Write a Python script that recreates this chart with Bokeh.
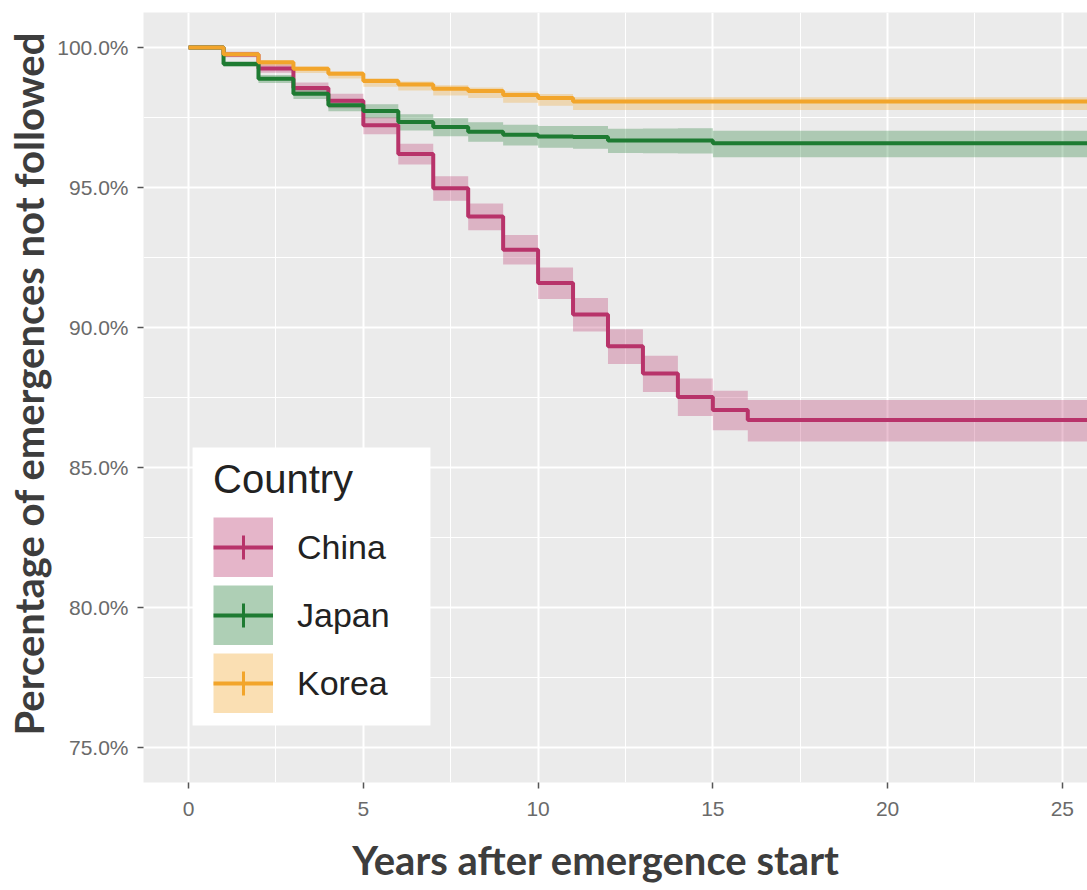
from bokeh.plotting import figure
from bokeh.models import Range1d, FixedTicker, Legend, LegendItem, Title, BoxAnnotation
from bokeh.embed import file_html
from bokeh.resources import INLINE

# ---------------- data ----------------
years = [0, 1, 2, 3, 4, 5, 6, 7, 8, 9, 10, 11, 12, 13, 14, 15, 16, 25.8]

china = [100, 99.75, 99.25, 98.55, 98.10, 97.22, 96.20, 94.97, 93.96, 92.78,
         91.59, 90.46, 89.33, 88.36, 87.52, 87.05, 86.70, 86.70]
china_upper = [100, 99.85, 99.40, 98.75, 98.35, 97.52, 96.56, 95.40, 94.43, 93.30,
               92.14, 91.05, 89.94, 88.99, 88.18, 87.74, 87.41, 87.41]
china_lower = [100, 99.65, 99.10, 98.33, 97.83, 96.90, 95.82, 94.53, 93.47, 92.25,
               91.02, 89.86, 88.70, 87.70, 86.84, 86.33, 85.93, 85.93]

japan = [100, 99.41, 98.88, 98.35, 97.94, 97.73, 97.34, 97.16, 96.99, 96.88,
         96.82, 96.80, 96.68, 96.68, 96.68, 96.58, 96.58, 96.58]
japan_upper = [100, 99.51, 99.02, 98.53, 98.15, 97.97, 97.62, 97.47, 97.33, 97.24,
               97.20, 97.20, 97.10, 97.11, 97.12, 97.03, 97.03, 97.03]
japan_lower = [100, 99.30, 98.73, 98.16, 97.72, 97.47, 97.04, 96.83, 96.63, 96.50,
               96.42, 96.38, 96.23, 96.22, 96.21, 96.08, 96.08, 96.08]

korea = [100, 99.76, 99.47, 99.24, 99.06, 98.80, 98.68, 98.53, 98.45, 98.30,
         98.20, 98.07, 98.07, 98.07, 98.07, 98.07, 98.07, 98.07]
korea_upper = [100, 99.81, 99.54, 99.32, 99.15, 98.90, 98.79, 98.65, 98.57, 98.43,
               98.34, 98.22, 98.22, 98.22, 98.22, 98.22, 98.22, 98.22]
korea_lower = [100, 99.68, 99.35, 99.09, 98.89, 98.60, 98.46, 98.29, 98.20, 98.03,
               97.92, 97.77, 97.77, 97.77, 97.77, 97.77, 97.77, 97.77]

countries = ["China", "Japan", "Korea"]
colors = ["#B8336A", "#1E7B32", "#F2A52B"]

x_ticks = [0, 5, 10, 15, 20, 25]
x_tick_labels = ["0", "5", "10", "15", "20", "25"]
x_minor = [2.5, 7.5, 12.5, 17.5, 22.5]
y_ticks = [75, 80, 85, 90, 95, 100]
y_tick_labels = ["75.0%", "80.0%", "85.0%", "90.0%", "95.0%", "100.0%"]
y_minor = [77.5, 82.5, 87.5, 92.5, 97.5]

x_title = "Years after emergence start"
y_title = "Percentage of emergences not followed"
legend_title = "Country"

NAN = float("nan")

# ---------------- figure ----------------
p = figure(width=1087, height=890, output_backend="svg", toolbar_location=None,
           x_range=Range1d(-1.29, 25.72), y_range=Range1d(73.75, 101.25),
           min_border_left=143, min_border_right=0, min_border_top=12, min_border_bottom=108)

p.background_fill_color = "#EBEBEB"
p.border_fill_color = "white"
p.outline_line_color = None

p.xaxis.ticker = FixedTicker(ticks=x_ticks, minor_ticks=x_minor)
p.yaxis.ticker = FixedTicker(ticks=y_ticks, minor_ticks=y_minor)
p.xaxis.major_label_overrides = dict(zip(x_ticks, x_tick_labels))
p.yaxis.major_label_overrides = dict(zip(y_ticks, y_tick_labels))

for ax in (p.xaxis[0], p.yaxis[0]):
    ax.axis_line_color = None
    ax.major_tick_in = 0
    ax.major_tick_out = 6
    ax.major_tick_line_color = "#555555"
    ax.major_tick_line_width = 1.5
    ax.minor_tick_line_color = None
    ax.major_label_text_font = "Liberation Sans"
    ax.major_label_text_font_size = "21px"
    ax.major_label_text_color = "#6a6a6a"
p.xaxis.major_label_standoff = 13
p.yaxis.major_label_standoff = 9

# x title as the axis label (trailing no-break spaces nudge the centred text left)
p.xaxis.axis_label = x_title + "\u00a0" * 4
p.xaxis.axis_label_standoff = 17
p.xaxis.axis_label_text_font = "Lato"
p.xaxis.axis_label_text_font_size = "40px"
p.xaxis.axis_label_text_font_style = "bold"
p.xaxis.axis_label_text_color = "#3d3d3d"

for g in (p.xgrid[0], p.ygrid[0]):
    g.grid_line_color = "white"
    g.grid_line_width = 2
    g.minor_grid_line_color = "white"
    g.minor_grid_line_width = 1

data = [
    (china, china_upper, china_lower),
    (japan, japan_upper, japan_lower),
    (korea, korea_upper, korea_lower),
]

for (s, up, lo), c in zip(data, colors):
    p.varea_step(x=years, y1=lo, y2=up, step_mode="after", fill_color=c, fill_alpha=0.3)

items = []
for (s, up, lo), c, name in zip(data, colors, countries):
    ln = p.step(x=years, y=s, mode="after", line_color=c, line_width=4)
    # legend-only keys (NaN data: nothing drawn in the plot area)
    sw = p.line(x=[NAN], y=[NAN], line_color=c, line_alpha=0.36, line_width=60, line_cap="butt")
    cr = p.scatter(x=[NAN], y=[NAN], marker="cross", line_color=c, line_width=3)
    items.append(LegendItem(label=name, renderers=[sw, ln, cr]))

# white panel behind the legend (legend box with inner margin)
p.add_layout(BoxAnnotation(left=0.114, right=6.92, bottom=75.79, top=85.71,
                           fill_color="white", fill_alpha=1.0, line_color=None))

legend = Legend(items=items, location=(70, 69), title=legend_title,
                background_fill_color="white", background_fill_alpha=1.0,
                border_line_color=None, padding=0, spacing=8, margin=0,
                glyph_width=60, glyph_height=60, label_standoff=24, label_width=122,
                title_standoff=15,
                label_text_font="Liberation Sans", label_text_font_size="34px",
                label_text_color="#222222",
                title_text_font="Liberation Sans", title_text_font_size="40px",
                title_text_color="#222222", title_text_font_style="normal")
p.add_layout(legend)

p.add_layout(Title(text=y_title, align="left", offset=47, standoff=4,
                   text_font="Lato", text_font_size="40px", text_font_style="bold",
                   text_color="#3d3d3d"), "left")

open("out.html", "w").write(file_html(p, INLINE))
